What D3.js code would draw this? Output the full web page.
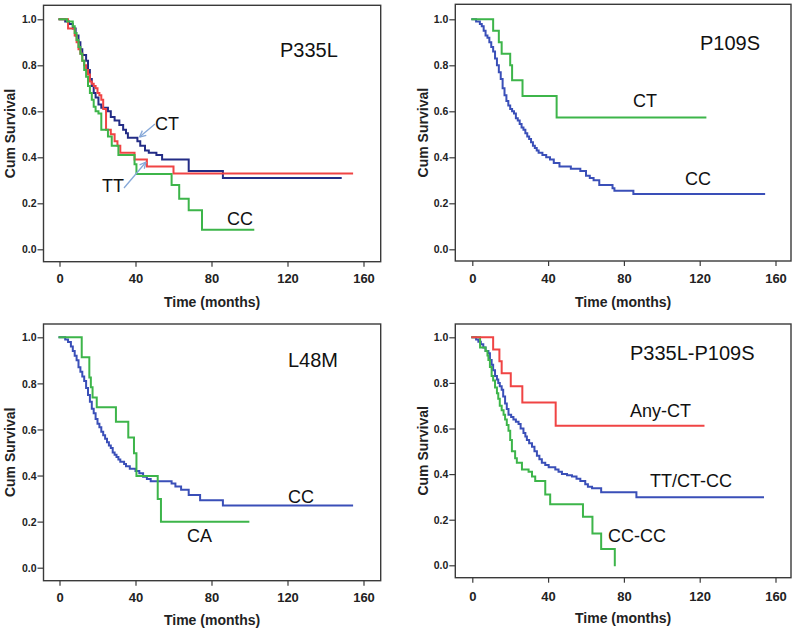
<!DOCTYPE html>
<html>
<head>
<meta charset="utf-8">
<script src="https://cdn.jsdelivr.net/npm/d3@7"></script>
<style>
  html, body { margin: 0; padding: 0; background: #fff; }
  svg { display: block; }
  text { font-family: "Liberation Sans", Arial, sans-serif; }
</style>
</head>
<body>
<svg id="chart" width="800" height="635"></svg>
<script>
// ---------- data (time in months, cumulative survival) ----------
const xTicks = [0, 40, 80, 120, 160];
const yTicks = [0, 0.2, 0.4, 0.6, 0.8, 1.0];

const p335l_CT = [[0,1],[3,0.99],[5,0.98],[7,0.96],[8.5,0.93],[10,0.9],[11,0.87],[12,0.845],[14,0.82],[15,0.78],[16,0.74],[17,0.71],[18,0.68],[19,0.66],[20.5,0.63],[22,0.615],[25.5,0.6],[27,0.575],[29,0.56],[31.5,0.54],[33.5,0.52],[35,0.505],[36,0.485],[41,0.47],[42.5,0.45],[45,0.43],[47,0.42],[51,0.41],[54,0.39],[68,0.34],[86,0.31],[148,0.31]];
const p335l_TT = [[0,1],[4.5,0.96],[8,0.93],[9,0.9],[10,0.87],[11,0.85],[12,0.82],[13,0.8],[14,0.78],[15,0.76],[16,0.73],[17,0.72],[18,0.71],[19,0.7],[20,0.68],[21,0.67],[22,0.65],[23,0.61],[24.5,0.52],[27,0.5],[29,0.47],[30.5,0.45],[32,0.42],[39.5,0.39],[46,0.36],[60,0.33],[154,0.33]];
const p335l_CC = [[0,1],[4,0.99],[7,0.97],[8,0.94],[9,0.91],[10,0.88],[11,0.85],[12,0.82],[13,0.78],[14,0.75],[15,0.71],[16,0.68],[17,0.65],[18,0.62],[19,0.6],[20.5,0.59],[22,0.52],[25.5,0.49],[27.5,0.45],[31,0.41],[39.5,0.37],[40.5,0.327],[59,0.28],[63,0.22],[68,0.17],[75,0.085],[102,0.085]];

const p109s_CT = [[0,1],[11,0.95],[14,0.9],[15.5,0.85],[20,0.8],[21,0.735],[26.5,0.667],[44.5,0.573],[123,0.573]];
const p109s_CC = [[0,1],[2,0.99],[4,0.98],[5,0.97],[6,0.95],[7,0.93],[8,0.92],[9,0.9],[10,0.88],[11,0.86],[12,0.83],[13,0.8],[14,0.77],[15,0.74],[16,0.7],[17,0.67],[18,0.645],[19,0.625],[20,0.61],[21,0.6],[22,0.59],[23,0.57],[24,0.56],[25,0.545],[26,0.53],[27,0.52],[28,0.505],[29,0.49],[30,0.48],[31,0.465],[32,0.45],[33,0.44],[34,0.43],[35,0.42],[37,0.41],[39,0.4],[41,0.39],[43,0.375],[46,0.36],[52,0.35],[57,0.34],[60,0.32],[62,0.31],[64,0.3],[67,0.28],[74,0.265],[75,0.255],[85,0.24],[154,0.24]];

const l48m_CC = [[0,1],[3,0.99],[4.5,0.98],[6,0.96],[7,0.94],[8,0.92],[9,0.9],[10,0.87],[11,0.85],[12,0.83],[13,0.81],[14,0.78],[15,0.75],[16,0.72],[17,0.69],[18,0.67],[19,0.645],[20,0.625],[21,0.61],[22,0.59],[23,0.575],[24,0.56],[25,0.545],[26,0.53],[27,0.52],[28,0.5],[29,0.49],[30,0.48],[31,0.47],[32,0.46],[34,0.45],[35,0.44],[37,0.43],[40,0.42],[42,0.41],[44,0.395],[46,0.385],[48,0.375],[59,0.365],[61,0.352],[64,0.338],[68,0.315],[74,0.293],[86,0.27],[154,0.27]];
const l48m_CA = [[0,1],[11.7,0.913],[15.7,0.826],[16.5,0.783],[17.4,0.739],[19.6,0.696],[29.7,0.633],[36.2,0.565],[39.2,0.497],[40.5,0.398],[51.7,0.298],[53.4,0.199],[99.4,0.199]];

const combo_AnyCT = [[0,1],[11,0.947],[14.3,0.895],[15.5,0.842],[20.3,0.785],[26.4,0.714],[44,0.612],[122,0.612]];
const combo_TTCT_CC = [[0,1],[2,0.99],[3.2,0.98],[4.5,0.97],[5.8,0.955],[7,0.94],[8.5,0.93],[9.3,0.9],[10.2,0.88],[11,0.855],[12,0.83],[13,0.815],[13.7,0.8],[14.5,0.785],[15.5,0.77],[16.3,0.74],[17.3,0.71],[18.2,0.685],[19.1,0.66],[20.5,0.65],[21.7,0.64],[23,0.63],[24.4,0.62],[25.5,0.6],[27,0.58],[28,0.565],[28.8,0.55],[30,0.535],[31.5,0.52],[32.8,0.5],[34.1,0.48],[35.4,0.465],[36.7,0.45],[38.5,0.44],[40.3,0.43],[43.8,0.42],[45.5,0.41],[47.3,0.4],[50,0.395],[52.6,0.39],[55,0.38],[57,0.37],[59.6,0.355],[61,0.345],[63.2,0.338],[68,0.32],[86.6,0.298],[153.4,0.298]];
const combo_CCCC = [[0,1],[4.1,0.955],[7,0.94],[8,0.92],[8.5,0.9],[9.3,0.87],[10.2,0.83],[11,0.81],[12,0.78],[13,0.755],[13.7,0.73],[14.5,0.7],[15.5,0.68],[16.5,0.66],[17.3,0.64],[18.2,0.615],[19.1,0.59],[20,0.55],[20.9,0.5],[22.6,0.47],[23.5,0.45],[26.2,0.42],[29.7,0.41],[31.5,0.39],[33.2,0.37],[38.5,0.31],[41.1,0.268],[58.4,0.213],[63.4,0.14],[68,0.072],[75.2,0]];

// ---------- layout ----------
const GREEN = "#3db54a", RED = "#f04444", NAVY = "#232c86", BLUE = "#3a4fb8", ARROW = "#86a8d8";

const panels = [
  { frame: [43.5, 5.3, 380.7, 261.7], xr: [59.5, 363.5], yr: [249.3, 19.3],
    xLab: 283.3, xTitle: 306.7, yTitleX: 15,
    series: [[p335l_CT, NAVY], [p335l_TT, RED], [p335l_CC, GREEN]],
    labels: [["P335L", 280, 56.7, 20], ["CT", 155, 130, 18], ["TT", 102, 191.7, 18], ["CC", 227, 225, 18]],
    arrows: [[155, 124, 139.5, 137], [124, 188, 146, 162]] },
  { frame: [455.3, 4.3, 791, 261], xr: [472.3, 775.5], yr: [249.3, 19.3],
    xLab: 283.3, xTitle: 306.7, yTitleX: 428.3,
    series: [[p109s_CC, BLUE], [p109s_CT, GREEN]],
    labels: [["P109S", 700, 50, 20], ["CT", 633, 106.7, 18], ["CC", 685, 185, 18]],
    arrows: [] },
  { frame: [43.5, 324, 380.7, 580.7], xr: [59.5, 363.5], yr: [567.7, 337.3],
    xLab: 602, xTitle: 625, yTitleX: 15,
    series: [[l48m_CC, BLUE], [l48m_CA, GREEN]],
    labels: [["L48M", 288, 366.7, 20], ["CC", 288, 502.7, 18], ["CA", 187, 541.7, 18]],
    arrows: [] },
  { frame: [455.3, 324, 791, 577.7], xr: [472.3, 775.5], yr: [565.3, 337.3],
    xLab: 600.7, xTitle: 623.3, yTitleX: 428.3,
    series: [[combo_TTCT_CC, BLUE], [combo_CCCC, GREEN], [combo_AnyCT, RED]],
    labels: [["P335L-P109S", 630, 360, 20], ["Any-CT", 630, 416.7, 18], ["TT/CT-CC", 650, 486.7, 18], ["CC-CC", 608, 541.7, 18]],
    arrows: [] }
];

const svg = d3.select("#chart");
svg.append("rect").attr("width", 800).attr("height", 635).attr("fill", "#fff");

panels.forEach(p => {
  const [fx0, fy0, fx1, fy1] = p.frame;
  const x = d3.scaleLinear().domain([0, 160]).range(p.xr);
  const y = d3.scaleLinear().domain([0, 1]).range(p.yr);
  const g = svg.append("g");

  // curves
  const line = d3.line().x(d => x(d[0])).y(d => y(d[1])).curve(d3.curveStepAfter);
  p.series.forEach(([data, color]) => {
    g.append("path").datum(data).attr("d", line)
      .attr("fill", "none").attr("stroke", color).attr("stroke-width", 2)
      .attr("stroke-linejoin", "miter").attr("stroke-linecap", "square");
  });

  // frame
  g.append("rect").attr("x", fx0).attr("y", fy0)
    .attr("width", fx1 - fx0).attr("height", fy1 - fy0)
    .attr("fill", "none").attr("stroke", "#3a3a3a").attr("stroke-width", 1.4);

  // x axis
  const xa = g.append("g").attr("transform", `translate(0,${fy1})`)
    .call(d3.axisBottom(x).tickValues(xTicks).tickSize(5).tickFormat(d3.format("d")));
  xa.select(".domain").remove();
  xa.selectAll("line").attr("stroke", "#3a3a3a").attr("stroke-width", 1.2);
  xa.selectAll("text").attr("y", p.xLab - fy1).attr("dy", 0)
    .attr("font-family", '"Liberation Sans", Arial, sans-serif')
    .attr("font-size", 13).attr("font-weight", "bold").attr("fill", "#222");

  // y axis
  const ya = g.append("g").attr("transform", `translate(${fx0},0)`)
    .call(d3.axisLeft(y).tickValues(yTicks).tickSize(6).tickFormat(d3.format(".1f")));
  ya.select(".domain").remove();
  ya.selectAll("line").attr("stroke", "#3a3a3a").attr("stroke-width", 1.2);
  ya.selectAll("text").attr("x", -7).attr("dy", "0.35em")
    .attr("font-family", '"Liberation Sans", Arial, sans-serif')
    .attr("font-size", 10.5).attr("font-weight", "bold").attr("fill", "#222");

  // axis titles
  g.append("text").attr("x", (fx0 + fx1) / 2).attr("y", p.xTitle)
    .attr("text-anchor", "middle").attr("font-size", 14).attr("font-weight", "bold")
    .attr("fill", "#222").text("Time (months)");
  g.append("text")
    .attr("transform", `translate(${p.yTitleX},${(fy0 + fy1) / 2}) rotate(-90)`)
    .attr("text-anchor", "middle").attr("font-size", 14).attr("font-weight", "bold")
    .attr("fill", "#222").text("Cum Survival");

  // labels
  p.labels.forEach(([t, lx, ly, fs]) => {
    g.append("text").attr("x", lx).attr("y", ly).attr("font-size", fs)
      .attr("fill", "#111").text(t);
  });

  // arrows
  p.arrows.forEach(([ax0, ay0, ax1, ay1]) => {
    g.append("line").attr("x1", ax0).attr("y1", ay0).attr("x2", ax1).attr("y2", ay1)
      .attr("stroke", ARROW).attr("stroke-width", 1.3);
    const ang = Math.atan2(ay1 - ay0, ax1 - ax0);
    const L = 7, spread = 0.45;
    [ang + Math.PI - spread, ang + Math.PI + spread].forEach(a => {
      g.append("line").attr("x1", ax1).attr("y1", ay1)
        .attr("x2", ax1 + L * Math.cos(a)).attr("y2", ay1 + L * Math.sin(a))
        .attr("stroke", ARROW).attr("stroke-width", 1.3);
    });
  });
});
</script>
</body>
</html>
